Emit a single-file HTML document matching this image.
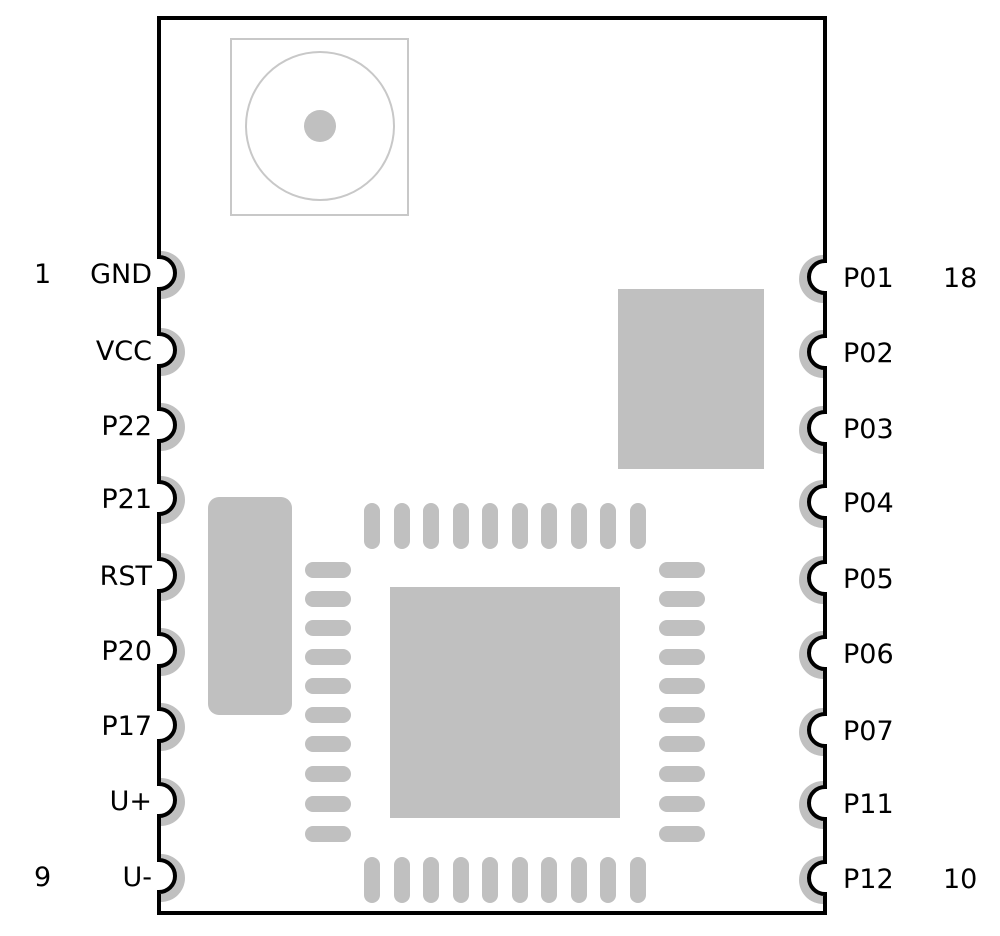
<!DOCTYPE html>
<html><head><meta charset="utf-8"><style>
html,body{margin:0;padding:0;background:#fff;}
svg{display:block;}
text{font-family:"DejaVu Sans","Liberation Sans",sans-serif;font-size:27px;fill:#000;}
</style></head><body>
<svg width="1000" height="936" viewBox="0 0 1000 936" xmlns="http://www.w3.org/2000/svg">
<defs>
<clipPath id="inL"><rect x="159" y="0" width="700" height="936"/></clipPath>
<clipPath id="inR"><rect x="0" y="0" width="825" height="936"/></clipPath>
</defs>
<rect x="231" y="39" width="177" height="176" fill="none" stroke="#c8c8c8" stroke-width="2"/>
<circle cx="320" cy="126" r="74" fill="none" stroke="#c8c8c8" stroke-width="2"/>
<circle cx="320" cy="126" r="16" fill="#c0c0c0"/>
<rect x="618" y="289" width="146" height="180" fill="#c0c0c0"/>
<rect x="208" y="497" width="84" height="218" rx="11" fill="#c0c0c0"/>
<rect x="390" y="587" width="230" height="231" fill="#c0c0c0"/>
<g fill="#c0c0c0">
<g id="tp">
<rect x="364" y="503" width="16" height="46" rx="8"/><rect x="394" y="503" width="16" height="46" rx="8"/>
<rect x="423" y="503" width="16" height="46" rx="8"/><rect x="453" y="503" width="16" height="46" rx="8"/>
<rect x="482" y="503" width="16" height="46" rx="8"/><rect x="512" y="503" width="16" height="46" rx="8"/>
<rect x="541" y="503" width="16" height="46" rx="8"/><rect x="571" y="503" width="16" height="46" rx="8"/>
<rect x="600" y="503" width="16" height="46" rx="8"/><rect x="630" y="503" width="16" height="46" rx="8"/>
</g>
<use href="#tp" y="354"/>
<g id="lp">
<rect x="305" y="562" width="46" height="16" rx="8"/><rect x="305" y="591" width="46" height="16" rx="8"/>
<rect x="305" y="620" width="46" height="16" rx="8"/><rect x="305" y="649" width="46" height="16" rx="8"/>
<rect x="305" y="678" width="46" height="16" rx="8"/><rect x="305" y="707" width="46" height="16" rx="8"/>
<rect x="305" y="736" width="46" height="16" rx="8"/><rect x="305" y="766" width="46" height="16" rx="8"/>
<rect x="305" y="796" width="46" height="16" rx="8"/><rect x="305" y="826" width="46" height="16" rx="8"/>
</g>
<use href="#lp" x="354"/>
</g>
<g clip-path="url(#inL)" fill="#c0c0c0">
<circle cx="161" cy="275" r="24"/><circle cx="161" cy="352" r="24"/><circle cx="161" cy="427" r="24"/>
<circle cx="161" cy="500" r="24"/><circle cx="161" cy="577" r="24"/><circle cx="161" cy="652" r="24"/>
<circle cx="161" cy="727" r="24"/><circle cx="161" cy="802" r="24"/><circle cx="161" cy="878" r="24"/>
</g>
<g clip-path="url(#inR)" fill="#c0c0c0">
<circle cx="823" cy="279" r="24"/><circle cx="823" cy="354" r="24"/><circle cx="823" cy="430" r="24"/>
<circle cx="823" cy="504" r="24"/><circle cx="823" cy="580" r="24"/><circle cx="823" cy="655" r="24"/>
<circle cx="823" cy="732" r="24"/><circle cx="823" cy="805" r="24"/><circle cx="823" cy="880" r="24"/>
</g>
<g fill="#fff">
<circle cx="159" cy="273" r="16"/><circle cx="159" cy="350" r="16"/><circle cx="159" cy="425" r="16"/>
<circle cx="159" cy="498" r="16"/><circle cx="159" cy="575" r="16"/><circle cx="159" cy="650" r="16"/>
<circle cx="159" cy="725" r="16"/><circle cx="159" cy="800" r="16"/><circle cx="159" cy="876" r="16"/>
<circle cx="825" cy="277" r="16"/><circle cx="825" cy="352" r="16"/><circle cx="825" cy="428" r="16"/>
<circle cx="825" cy="502" r="16"/><circle cx="825" cy="578" r="16"/><circle cx="825" cy="653" r="16"/>
<circle cx="825" cy="730" r="16"/><circle cx="825" cy="803" r="16"/><circle cx="825" cy="878" r="16"/>
</g>
<rect x="0" y="0" width="157" height="936" fill="#fff"/>
<rect x="827" y="0" width="173" height="936" fill="#fff"/>
<path fill="none" stroke="#000" stroke-width="4" stroke-linejoin="miter" d="
M159,18 L825,18
L825,261 A16 16 0 0 0 809,277 A16 16 0 0 0 825,293
L825,336 A16 16 0 0 0 809,352 A16 16 0 0 0 825,368
L825,412 A16 16 0 0 0 809,428 A16 16 0 0 0 825,444
L825,486 A16 16 0 0 0 809,502 A16 16 0 0 0 825,518
L825,562 A16 16 0 0 0 809,578 A16 16 0 0 0 825,594
L825,637 A16 16 0 0 0 809,653 A16 16 0 0 0 825,669
L825,714 A16 16 0 0 0 809,730 A16 16 0 0 0 825,746
L825,787 A16 16 0 0 0 809,803 A16 16 0 0 0 825,819
L825,862 A16 16 0 0 0 809,878 A16 16 0 0 0 825,894
L825,913 L159,913
L159,892 A16 16 0 0 0 175,876 A16 16 0 0 0 159,860
L159,816 A16 16 0 0 0 175,800 A16 16 0 0 0 159,784
L159,741 A16 16 0 0 0 175,725 A16 16 0 0 0 159,709
L159,666 A16 16 0 0 0 175,650 A16 16 0 0 0 159,634
L159,591 A16 16 0 0 0 175,575 A16 16 0 0 0 159,559
L159,514 A16 16 0 0 0 175,498 A16 16 0 0 0 159,482
L159,441 A16 16 0 0 0 175,425 A16 16 0 0 0 159,409
L159,366 A16 16 0 0 0 175,350 A16 16 0 0 0 159,334
L159,289 A16 16 0 0 0 175,273 A16 16 0 0 0 159,257
Z"/>
<g text-anchor="end">
<text x="152" y="283">GND</text><text x="152" y="360">VCC</text><text x="152" y="435">P22</text>
<text x="152" y="508">P21</text><text x="152" y="585">RST</text><text x="152" y="660">P20</text>
<text x="152" y="735">P17</text><text x="152" y="810">U+</text><text x="152" y="886">U-</text>
</g>
<text x="34" y="283">1</text><text x="34" y="886">9</text>
<g>
<text x="843" y="287">P01</text><text x="843" y="362">P02</text><text x="843" y="438">P03</text>
<text x="843" y="512">P04</text><text x="843" y="588">P05</text><text x="843" y="663">P06</text>
<text x="843" y="740">P07</text><text x="843" y="813">P11</text><text x="843" y="888">P12</text>
</g>
<text x="943" y="287">18</text><text x="943" y="888">10</text>
</svg>
</body></html>
